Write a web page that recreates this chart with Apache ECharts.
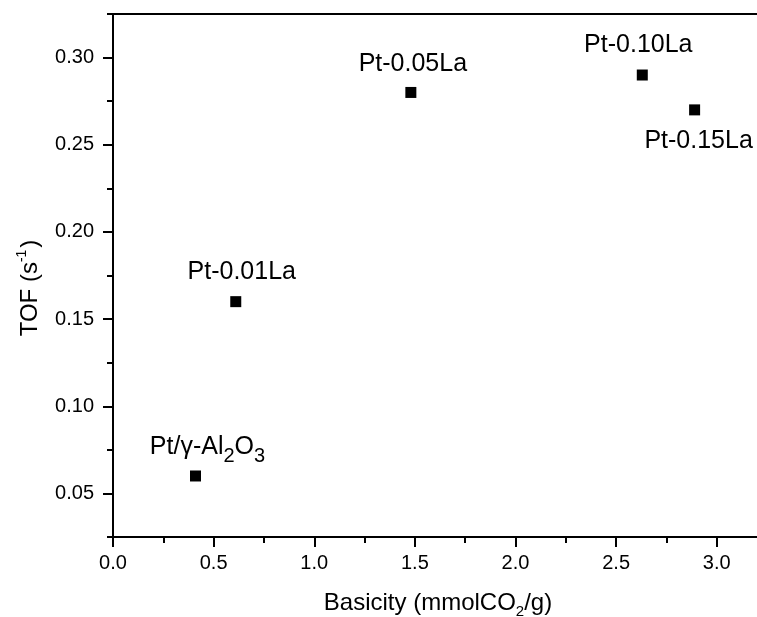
<!DOCTYPE html>
<html>
<head>
<meta charset="utf-8">
<script src="https://cdn.jsdelivr.net/npm/echarts@6/dist/echarts.min.js"></script>
<style>
html,body{margin:0;padding:0;background:#fff;}
#chart{width:757px;height:617px;}
</style>
</head>
<body>
<div id="chart"></div>
<script>
// ---- data ----
const sampleNames = ['Pt/γ-Al2O3', 'Pt-0.01La', 'Pt-0.05La', 'Pt-0.10La', 'Pt-0.15La'];
const basicity = [0.41, 0.61, 1.48, 2.63, 2.89];
const tof = [0.06, 0.16, 0.28, 0.29, 0.27];
const xMajorTicks = [0, 0.5, 1.0, 1.5, 2.0, 2.5, 3.0];
const xMinorTicks = [0.25, 0.75, 1.25, 1.75, 2.25, 2.75];
const yMajorTicks = [0.05, 0.10, 0.15, 0.20, 0.25, 0.30];
const yMinorTicks = [0.025, 0.075, 0.125, 0.175, 0.225, 0.275, 0.325];

// ---- label placement (styling, not data) ----
const labelOffsets = [[12, -29], [6, -30], [2, -28], [-4, -30], [4, 31]];

const FONT = 'Liberation Sans, Arial, Helvetica, sans-serif';
const TXT = '#000';
const X_MIN = 0, X_MAX = 3.2, Y_MIN = 0.025, Y_MAX = 0.325;
const gridBox = { left: 113, right: 0, top: 14, bottom: 80 };

function fmtName(n) {
  return n.replace('Al2O3', 'Al{sub|2}O{sub|3}');
}

const chart = echarts.init(document.getElementById('chart'), null, { renderer: 'canvas' });

const axisLine = { show: true, lineStyle: { color: '#000', width: 2 } };

const option = {
  animation: false,
  backgroundColor: '#fff',
  grid: [
    Object.assign({}, gridBox),
    Object.assign({}, gridBox)
  ],
  xAxis: [
    {
      type: 'value', gridIndex: 0, position: 'bottom', min: X_MIN, max: X_MAX,
      axisLine: axisLine, splitLine: { show: false },
      axisTick: { show: true, inside: false, length: 10, customValues: xMajorTicks, lineStyle: { color: '#000', width: 2 } },
      axisLabel: { show: true, customValues: xMajorTicks, margin: 16, fontSize: 20, fontFamily: FONT, color: TXT,
        formatter: v => v.toFixed(1) }
    },
    {
      type: 'value', gridIndex: 0, position: 'top', min: X_MIN, max: X_MAX,
      axisLine: axisLine, splitLine: { show: false },
      axisTick: { show: false }, axisLabel: { show: false }
    },
    {
      type: 'value', gridIndex: 1, position: 'bottom', min: X_MIN, max: X_MAX,
      axisLine: { show: false }, splitLine: { show: false },
      axisTick: { show: true, inside: false, length: 6, customValues: xMinorTicks, lineStyle: { color: '#000', width: 2 } },
      axisLabel: { show: false }
    }
  ],
  yAxis: [
    {
      type: 'value', gridIndex: 0, position: 'left', min: Y_MIN, max: Y_MAX,
      axisLine: axisLine, splitLine: { show: false },
      axisTick: { show: true, inside: false, length: 10, customValues: yMajorTicks, lineStyle: { color: '#000', width: 2 } },
      axisLabel: { show: true, customValues: yMajorTicks, margin: 19, fontSize: 20, fontFamily: FONT, color: TXT,
        formatter: v => v.toFixed(2) }
    },
    {
      type: 'value', gridIndex: 1, position: 'left', min: Y_MIN, max: Y_MAX,
      axisLine: { show: false }, splitLine: { show: false },
      axisTick: { show: true, inside: false, length: 6, customValues: yMinorTicks, lineStyle: { color: '#000', width: 2 } },
      axisLabel: { show: false }
    }
  ],
  series: [
    {
      type: 'scatter',
      xAxisIndex: 0, yAxisIndex: 0,
      symbol: 'rect', symbolSize: 11,
      itemStyle: { color: '#000', opacity: 1 },
      data: basicity.map((x, i) => ({
        value: [x, tof[i]],
        name: sampleNames[i],
        label: { offset: labelOffsets[i] }
      })),
      label: {
        show: true, position: 'inside', align: 'center', verticalAlign: 'middle',
        fontSize: 25, fontFamily: FONT, color: TXT, opacity: 1,
        formatter: p => fmtName(p.name),
        rich: {
          sub: { fontSize: 20, fontFamily: FONT, color: TXT, padding: [19, 0, 0, 0] }
        }
      },
      emphasis: { disabled: true }
    }
  ],
  graphic: [
    {
      type: 'text', x: 438, y: 603,
      style: {
        text: 'Basicity (mmolCO{sub|2}/g)',
        fontSize: 24, fontFamily: FONT, fill: TXT,
        align: 'center', verticalAlign: 'middle',
        rich: { sub: { fontSize: 15, fontFamily: FONT, fill: TXT, padding: [18, 0, 0, 0] } }
      }
    },
    {
      type: 'text', x: 30, y: 288, rotation: Math.PI / 2,
      style: {
        text: 'TOF (s{sup|-1})',
        fontSize: 24, fontFamily: FONT, fill: TXT,
        align: 'center', verticalAlign: 'middle',
        rich: { sup: { fontSize: 14, fontFamily: FONT, fill: TXT, padding: [0, 2, 16, 0] } }
      }
    }
  ]
};

chart.setOption(option);
</script>
</body>
</html>
